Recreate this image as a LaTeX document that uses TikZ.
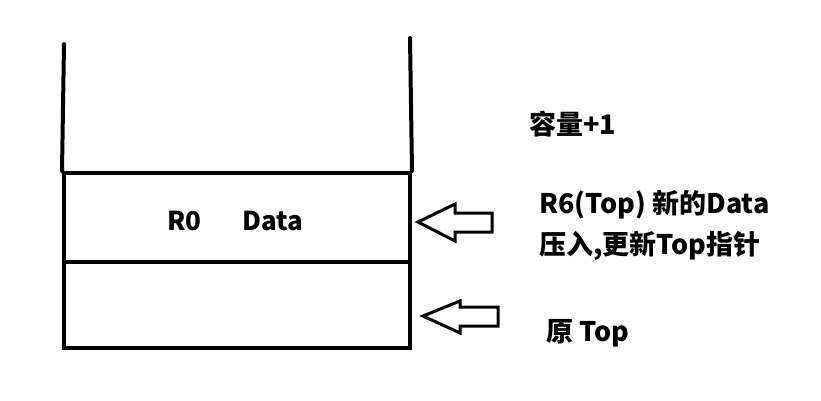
\documentclass[tikz,border=0pt]{standalone}
\usepackage{fontspec}
\setmainfont{Noto Sans CJK SC}
\begin{document}
\begin{tikzpicture}[x=1pt,y=-1pt,
  wall/.style={line width=4pt,line cap=round},
  cell/.style={draw,line width=4pt,minimum width=346pt,inner sep=0pt},
  celltext/.style={inner sep=0pt,anchor=west,font=\bfseries\fontsize{26}{30}\selectfont},
  blockarrow/.style={draw,line width=3pt,line join=miter,fill=white},
  lbl/.style={anchor=west,inner sep=0pt,font=\bfseries\fontsize{27}{31}\selectfont}]
\useasboundingbox (0,0) rectangle (821,400);
\fill[white] (0,0) rectangle (821,400);
% container walls
\coordinate (lt) at (64,44);
\coordinate (rt) at (410,38);
\node[cell,minimum height=89pt] (c1) at (237,217.5) {};
\node[cell,minimum height=86pt] (c2) at (237,305) {};
\draw[wall] (lt) -- (c1.north west);
\draw[wall] (rt) -- (c1.north east);
\node[celltext] (r0) at (167,221) {R0};
\node[celltext] (data) at (242,221) {Data};
% arrows
\draw[blockarrow] (418,222) -- (455,204) -- (455,213) -- (492,213) -- (492,232) -- (455,232) -- (455,241) -- cycle;
\draw[blockarrow] (423,316) -- (460,301) -- (460,307) -- (498,307) -- (498,326) -- (460,326) -- (460,333) -- cycle;
% labels
\node[lbl] (cap) at (529,124) {容量+1};
\node[lbl] (new1) at (539,205) {R6(Top) 新的Data};
\node[lbl] (new2) at (539,246) {压入,更新Top指针};
\node[lbl] (old) at (546,333) {原 Top};
\end{tikzpicture}
\end{document}
